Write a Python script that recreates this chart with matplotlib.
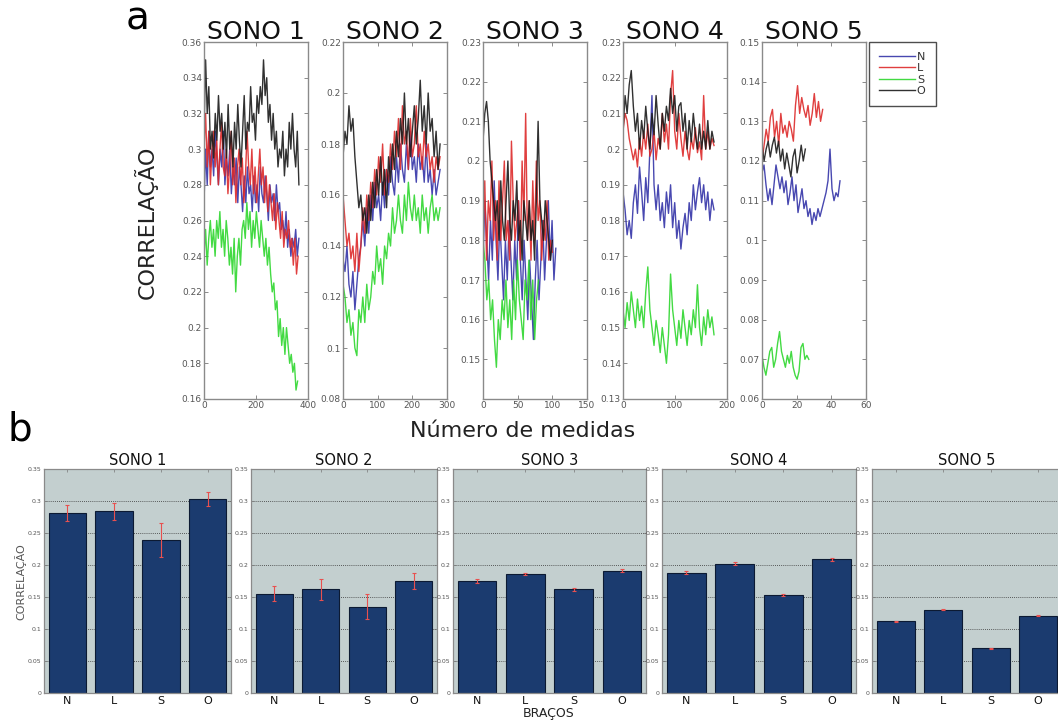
import matplotlib
matplotlib.use("Agg")
import matplotlib.pyplot as plt
import numpy as np

# ---- panel a : correlation over time ----
sono_names = ["SONO 1", "SONO 2", "SONO 3", "SONO 4", "SONO 5"]
bracos = ["N", "L", "S", "O"]

s1_N = [0.27, 0.30, 0.28, 0.31, 0.29, 0.30, 0.285, 0.31, 0.295, 0.28, 0.30, 0.29, 0.31, 0.28, 0.295,
        0.285, 0.30, 0.275, 0.29, 0.28, 0.295, 0.27, 0.29, 0.28, 0.265, 0.285, 0.27, 0.29, 0.275, 0.28,
        0.265, 0.285, 0.27, 0.28, 0.265, 0.29, 0.275, 0.27, 0.285, 0.275, 0.26, 0.28, 0.27, 0.275, 0.26,
        0.28, 0.265, 0.27, 0.255, 0.26, 0.25, 0.265, 0.245, 0.255, 0.24, 0.25, 0.245, 0.255, 0.24, 0.25]
s1_L = [0.30, 0.32, 0.29, 0.31, 0.28, 0.30, 0.31, 0.29, 0.305, 0.28, 0.30, 0.315, 0.29, 0.285, 0.30,
        0.275, 0.29, 0.31, 0.28, 0.295, 0.27, 0.29, 0.30, 0.28, 0.295, 0.27, 0.285, 0.31, 0.29, 0.28,
        0.30, 0.275, 0.29, 0.27, 0.285, 0.30, 0.28, 0.29, 0.27, 0.285, 0.265, 0.28, 0.27, 0.26, 0.275,
        0.255, 0.27, 0.26, 0.25, 0.265, 0.245, 0.255, 0.25, 0.26, 0.245, 0.25, 0.235, 0.25, 0.23, 0.24]
s1_S = [0.24, 0.255, 0.235, 0.25, 0.26, 0.245, 0.255, 0.24, 0.26, 0.25, 0.265, 0.245, 0.255, 0.24, 0.26,
        0.25, 0.235, 0.245, 0.23, 0.25, 0.22, 0.24, 0.25, 0.235, 0.255, 0.26, 0.25, 0.27, 0.255, 0.265,
        0.245, 0.26, 0.25, 0.265, 0.255, 0.245, 0.26, 0.25, 0.24, 0.25, 0.235, 0.245, 0.23, 0.22, 0.225,
        0.21, 0.215, 0.195, 0.205, 0.19, 0.20, 0.185, 0.20, 0.19, 0.18, 0.185, 0.175, 0.18, 0.165, 0.17]
s1_O = [0.31, 0.35, 0.32, 0.335, 0.30, 0.31, 0.295, 0.32, 0.305, 0.33, 0.31, 0.32, 0.30, 0.315, 0.295,
        0.325, 0.30, 0.31, 0.29, 0.315, 0.30, 0.325, 0.305, 0.29, 0.31, 0.33, 0.30, 0.315, 0.31, 0.335,
        0.315, 0.32, 0.305, 0.33, 0.32, 0.335, 0.325, 0.35, 0.33, 0.34, 0.315, 0.325, 0.305, 0.32, 0.30,
        0.31, 0.29, 0.30, 0.295, 0.31, 0.285, 0.30, 0.29, 0.315, 0.30, 0.32, 0.30, 0.29, 0.31, 0.28]

s2_N = [0.135, 0.13, 0.14, 0.125, 0.12, 0.13, 0.115, 0.125, 0.135, 0.14, 0.15, 0.14, 0.155, 0.145, 0.16,
        0.15, 0.165, 0.155, 0.16, 0.15, 0.165, 0.155, 0.17, 0.16, 0.175, 0.165, 0.16, 0.175, 0.165, 0.18,
        0.17, 0.165, 0.18, 0.17, 0.185, 0.17, 0.175, 0.165, 0.18, 0.17, 0.175, 0.165, 0.18, 0.165, 0.17,
        0.16, 0.17, 0.16, 0.165, 0.17]
s2_L = [0.16, 0.15, 0.14, 0.145, 0.135, 0.14, 0.13, 0.145, 0.13, 0.14, 0.155, 0.145, 0.16, 0.15, 0.165,
        0.155, 0.17, 0.16, 0.175, 0.165, 0.18, 0.16, 0.17, 0.165, 0.18, 0.17, 0.185, 0.175, 0.19, 0.17,
        0.195, 0.18, 0.185, 0.17, 0.19, 0.175, 0.18, 0.195, 0.175, 0.18, 0.17, 0.185, 0.175, 0.18, 0.17,
        0.175, 0.165, 0.175, 0.17, 0.175]
s2_S = [0.125, 0.12, 0.11, 0.115, 0.105, 0.11, 0.10, 0.097, 0.115, 0.11, 0.12, 0.11, 0.125, 0.115, 0.12,
        0.13, 0.125, 0.14, 0.13, 0.135, 0.125, 0.14, 0.135, 0.145, 0.14, 0.155, 0.145, 0.15, 0.16, 0.15,
        0.145, 0.16, 0.15, 0.165, 0.155, 0.15, 0.16, 0.15, 0.155, 0.145, 0.16, 0.15, 0.155, 0.145, 0.155,
        0.16, 0.15, 0.155, 0.15, 0.155]
s2_O = [0.175, 0.185, 0.18, 0.195, 0.185, 0.19, 0.175, 0.165, 0.155, 0.16, 0.15, 0.155, 0.145, 0.16, 0.15,
        0.165, 0.155, 0.17, 0.16, 0.175, 0.16, 0.17, 0.155, 0.175, 0.165, 0.18, 0.17, 0.185, 0.175, 0.19,
        0.18, 0.20, 0.18, 0.19, 0.175, 0.185, 0.195, 0.18, 0.19, 0.205, 0.185, 0.195, 0.18, 0.20, 0.185,
        0.19, 0.175, 0.185, 0.17, 0.18]

s3_N = [0.175, 0.19, 0.18, 0.17, 0.185, 0.175, 0.195, 0.18, 0.17, 0.185, 0.175, 0.165, 0.18, 0.17, 0.185,
        0.175, 0.165, 0.18, 0.17, 0.19, 0.175, 0.165, 0.18, 0.17, 0.16, 0.175, 0.165, 0.155, 0.17, 0.18,
        0.165, 0.175, 0.185, 0.17, 0.18, 0.19, 0.175, 0.185, 0.17, 0.178]
s3_L = [0.18, 0.195, 0.175, 0.19, 0.185, 0.20, 0.18, 0.19, 0.175, 0.195, 0.18, 0.19, 0.20, 0.18, 0.185,
        0.175, 0.205, 0.19, 0.18, 0.185, 0.19, 0.175, 0.20, 0.185, 0.212, 0.18, 0.19, 0.175, 0.195, 0.18,
        0.20, 0.185, 0.19, 0.175, 0.185, 0.18, 0.19, 0.175, 0.18, 0.177]
s3_S = [0.18, 0.175, 0.165, 0.17, 0.16, 0.165, 0.155, 0.148, 0.16, 0.155, 0.165, 0.16, 0.17, 0.158, 0.165,
        0.155, 0.17, 0.16, 0.175, 0.165, 0.16, 0.155, 0.17, 0.165, 0.175, 0.16, 0.17, 0.155, 0.165, 0.17]
s3_O = [0.205, 0.212, 0.215, 0.21, 0.20, 0.195, 0.19, 0.185, 0.19, 0.18, 0.195, 0.185, 0.18, 0.19, 0.20,
        0.185, 0.18, 0.19, 0.185, 0.195, 0.18, 0.185, 0.175, 0.19, 0.185, 0.18, 0.19, 0.18, 0.185, 0.175,
        0.19, 0.21, 0.19, 0.185, 0.18, 0.19, 0.185, 0.18, 0.175, 0.18]

s4_N = [0.188, 0.183, 0.176, 0.18, 0.175, 0.185, 0.19, 0.182, 0.195, 0.188, 0.18, 0.192, 0.185, 0.20, 0.215,
        0.19, 0.183, 0.19, 0.18, 0.185, 0.178, 0.188, 0.182, 0.19, 0.178, 0.185, 0.175, 0.18, 0.172, 0.178,
        0.182, 0.176, 0.185, 0.18, 0.19, 0.183, 0.188, 0.192, 0.185, 0.19, 0.183, 0.188, 0.18, 0.186, 0.183]
s4_L = [0.205, 0.21, 0.208, 0.203, 0.20, 0.197, 0.20, 0.195, 0.203, 0.198, 0.205, 0.20, 0.207, 0.198, 0.20,
        0.205, 0.197, 0.203, 0.20, 0.21, 0.202, 0.207, 0.20, 0.215, 0.222, 0.205, 0.20, 0.21, 0.203, 0.198,
        0.205, 0.20, 0.197, 0.203, 0.20, 0.206, 0.199, 0.202, 0.197, 0.215, 0.20, 0.205, 0.20, 0.203, 0.201]
s4_S = [0.155, 0.15, 0.157, 0.152, 0.16, 0.155, 0.15, 0.158, 0.152, 0.156, 0.15, 0.16, 0.167, 0.155, 0.15,
        0.145, 0.152, 0.148, 0.143, 0.15, 0.145, 0.14, 0.148, 0.165, 0.155, 0.15, 0.145, 0.152, 0.147, 0.155,
        0.15, 0.145, 0.152, 0.148, 0.155, 0.15, 0.162, 0.15, 0.145, 0.153, 0.148, 0.155, 0.15, 0.153, 0.148]
s4_O = [0.205, 0.215, 0.21, 0.218, 0.222, 0.212, 0.205, 0.21, 0.20, 0.208, 0.203, 0.212, 0.205, 0.20, 0.21,
        0.204, 0.215, 0.207, 0.20, 0.21, 0.205, 0.212, 0.208, 0.217, 0.21, 0.215, 0.205, 0.212, 0.213, 0.205,
        0.21, 0.20, 0.208, 0.202, 0.21, 0.204, 0.20, 0.207, 0.20, 0.205, 0.20, 0.208, 0.20, 0.205, 0.202]

s5_N = [0.117, 0.119, 0.114, 0.11, 0.113, 0.109, 0.114, 0.119, 0.116, 0.113, 0.116, 0.112, 0.115, 0.109,
        0.112, 0.116, 0.11, 0.114, 0.107, 0.11, 0.113, 0.108, 0.11, 0.106, 0.108, 0.104, 0.107, 0.105,
        0.108, 0.106, 0.108, 0.11, 0.112, 0.115, 0.123, 0.113, 0.11, 0.112, 0.111, 0.115]
s5_L = [0.12, 0.124, 0.128, 0.125, 0.131, 0.133, 0.126, 0.13, 0.124, 0.132, 0.127, 0.129, 0.126, 0.13,
        0.128, 0.125, 0.134, 0.139, 0.132, 0.136, 0.133, 0.131, 0.134, 0.129, 0.132, 0.137, 0.131, 0.135,
        0.13, 0.133]
s5_S = [0.071, 0.068, 0.066, 0.069, 0.072, 0.073, 0.068, 0.07, 0.074, 0.077, 0.072, 0.07, 0.068, 0.071,
        0.069, 0.072, 0.068, 0.066, 0.065, 0.067, 0.073, 0.074, 0.07, 0.071, 0.07]
s5_O = [0.124, 0.12, 0.123, 0.125, 0.121, 0.124, 0.126, 0.122, 0.125, 0.12, 0.123, 0.118, 0.122, 0.119,
        0.116, 0.121, 0.123, 0.117, 0.12, 0.124, 0.12, 0.123]

series = [[s1_N, s1_L, s1_S, s1_O], [s2_N, s2_L, s2_S, s2_O], [s3_N, s3_L, s3_S, s3_O],
          [s4_N, s4_L, s4_S, s4_O], [s5_N, s5_L, s5_S, s5_O]]
# last measurement index of each series (N, L, S, O)
x_end = [[365, 362, 360, 365], [280, 280, 280, 280], [105, 100, 80, 100],
         [175, 175, 175, 175], [45, 35, 27, 25]]

xlims = [(0, 400), (0, 300), (0, 150), (0, 200), (0, 60)]
xticks = [[0, 200, 400], [0, 100, 200, 300], [0, 50, 100, 150], [0, 100, 200], [0, 20, 40, 60]]
ylims = [(0.16, 0.36), (0.08, 0.22), (0.14, 0.23), (0.13, 0.23), (0.06, 0.15)]
ysteps = [0.02, 0.02, 0.01, 0.01, 0.01]

# ---- panel b : mean correlation per arm ----
means = [[0.281, 0.284, 0.239, 0.303],
         [0.155, 0.162, 0.135, 0.175],
         [0.175, 0.186, 0.162, 0.191],
         [0.188, 0.202, 0.153, 0.209],
         [0.112, 0.130, 0.070, 0.121]]
errs = [[0.013, 0.013, 0.027, 0.011],
        [0.012, 0.016, 0.019, 0.012],
        [0.003, 0.002, 0.002, 0.002],
        [0.002, 0.002, 0.002, 0.002],
        [0.001, 0.001, 0.001, 0.001]]

line_colors = ["#3434a8", "#dd2a2a", "#2ed62e", "#1a1a1a"]

W, H = 1058, 721
fig = plt.figure(figsize=(W / 100, H / 100), dpi=100)


def px(x0, y_top, w, h):
    return [x0 / W, 1 - (y_top + h) / H, w / W, h / H]


top_lefts = [204, 343, 483, 623, 762]
for i in range(5):
    ax = fig.add_axes(px(top_lefts[i], 42, 104, 357))
    for j in range(4):
        vals = series[i][j]
        xs = np.linspace(0, x_end[i][j], len(vals))
        ax.plot(xs, vals, color=line_colors[j], lw=1.0, alpha=0.9, label=bracos[j])
    ax.set_xlim(*xlims[i])
    ax.set_ylim(*ylims[i])
    ax.set_xticks(xticks[i])
    lo, hi = ylims[i]
    yt = np.round(np.arange(lo, hi + 1e-9, ysteps[i]), 2)
    if i == 2:
        yt = yt[1:]
    ax.set_yticks(yt)
    ax.set_yticklabels([("%g" % v) for v in yt])
    ax.tick_params(direction="in", top=True, right=True, labelsize=6.5,
                   labelcolor="#555555", color="#777777", length=3, width=0.6, pad=1.5)
    for sp in ax.spines.values():
        sp.set_color("#8a8a8a")
        sp.set_linewidth(1.0)
    ax.set_title(sono_names[i], fontsize=18, pad=2, color="#111111")
    if i == 0:
        handles, labels = ax.get_legend_handles_labels()

leg = fig.legend(handles, labels, loc="upper left", bbox_to_anchor=(869 / W, 1 - 42 / H),
                 fontsize=8, frameon=True, fancybox=False, edgecolor="#222222", handlelength=3.2,
                 handletextpad=0.2, labelspacing=0.12, borderpad=0.9, borderaxespad=0,
                 labelcolor="#333333")
leg.get_frame().set_linewidth(1.0)

fig.text(138 / W, 1 - 18 / H, "a", fontsize=28, ha="center", va="center")
fig.text(20 / W, 1 - 430 / H, "b", fontsize=28, ha="center", va="center")
fig.text(146 / W, 1 - 222 / H, "CORRELAÇÃO", fontsize=16, rotation=90, ha="center", va="center",
         color="#222222")
fig.text(523 / W, 1 - 431 / H, "Número de medidas", fontsize=16, ha="center", va="center",
         color="#222222")

# bottom bar charts
bot_lefts = [44, 251, 453, 662, 872]
bot_widths = [187, 186, 193, 194, 190]
x = np.arange(1, 5)
for i in range(5):
    ax = fig.add_axes(px(bot_lefts[i], 469, bot_widths[i], 224))
    ax.set_facecolor("#c3cfcf")
    ax.set_axisbelow(True)
    ax.bar(x, means[i], width=0.8, color="#1b3b6f", edgecolor="#0c1a33", linewidth=0.8, zorder=2)
    ax.errorbar(x, means[i], yerr=errs[i], fmt="none", ecolor="#e8504f", elinewidth=0.8,
                capsize=1.5, capthick=0.8, zorder=3)
    ax.set_xlim(0.5, 4.5)
    ax.set_ylim(0, 0.35)
    ax.set_xticks(x)
    ax.set_xticklabels(bracos)
    yt = [0, 0.05, 0.1, 0.15, 0.2, 0.25, 0.3, 0.35]
    ax.set_yticks(yt)
    ax.set_yticklabels([("%g" % v) for v in yt])
    ax.yaxis.grid(True, linestyle=(0, (1, 1.5)), color="#333333", linewidth=0.6)
    ax.tick_params(axis="y", direction="in", right=True, labelsize=4.5, labelcolor="#555555",
                   color="#777777", length=2, width=0.5, pad=2)
    ax.tick_params(axis="x", direction="in", top=True, labelsize=8, labelcolor="#111111",
                   color="#777777", length=2, width=0.5, pad=2)
    for sp in ax.spines.values():
        sp.set_color("#8a8a8a")
        sp.set_linewidth(0.9)
    ax.set_title(sono_names[i], fontsize=10.5, pad=3, color="#111111")

fig.text(20 / W, 1 - 582 / H, "CORRELAÇÃO", fontsize=8, rotation=90, ha="center", va="center",
         color="#555555")
fig.text(549 / W, 1 - 714 / H, "BRAÇOS", fontsize=9, ha="center", va="center", color="#222222")

fig.savefig("out.png", dpi=100)
